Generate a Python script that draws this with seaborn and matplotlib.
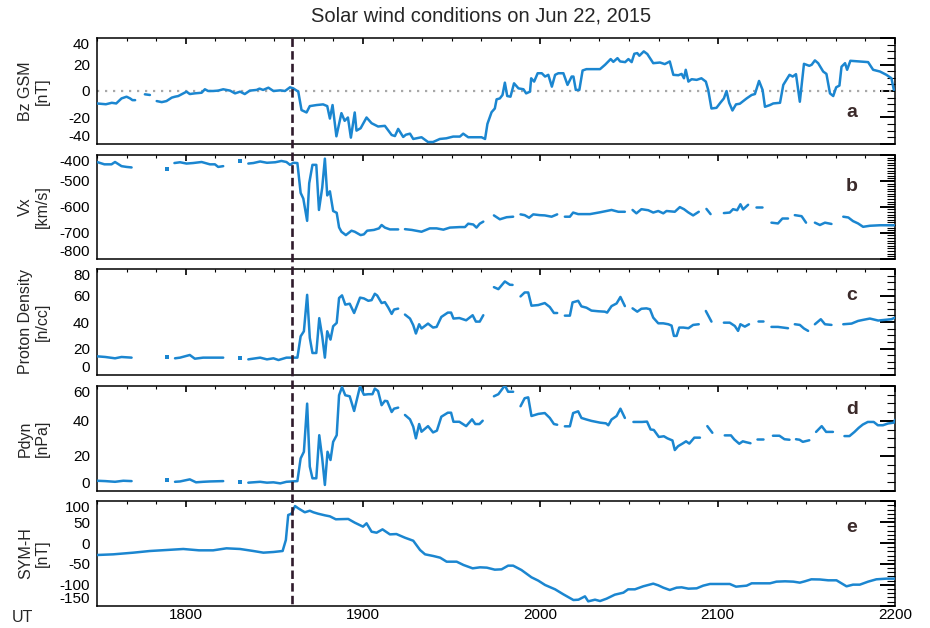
import numpy as np
import pandas as pd
import matplotlib
matplotlib.use("Agg")
import matplotlib.pyplot as plt
import matplotlib.transforms as mtransforms
from matplotlib.lines import Line2D
from matplotlib.ticker import MultipleLocator, FixedLocator
import seaborn as sns

# ---------------------------------------------------------------------------
# Data: time in minutes after 17:30 UT, value; None marks a data gap
# ---------------------------------------------------------------------------
bz_gsm = [
    (0, -9.4), (3, -10), (5, -8.9), (6.5, -9.4), (8.3, -5.6), (10, -4.3), (11.2, -5.6), (12, -6.9), (12.9, -6.9), None,
    (16.2, -2.5), (17.9, -3.0), None,
    (20.2, -7.6), (21.9, -8.4), (23.5, -7.6), (25.3, -5), (26.4, -4.3), (27.5, -3.8), (28.6, -2.5), (30.3, -0.5),
    (31.4, -2.3), (33, -1.8), (35.4, -1.3), (36.5, 1.3), (37.6, 0), (39.3, 0), (41, 0.3), (42.7, 1.3), (45, 0.3),
    (46.7, -1.8), (48.4, -0.5), (50, -2.3), (51.7, 0.3), (54, 0.8), (55, 1.8), (56.2, 0.8), (58, 2.5), (59.7, 0),
    (62, 0.5), (63.6, 0), (65.3, 2.8), (66.4, 2), (68.1, -0.5), (69.2, -14.4), (70.9, -16.2), (72, -11.4),
    (74.3, -10.6), (76.5, -10.1), (77.9, -11.4), (78.8, -20.8), (79.7, -10.6), (81, -34.2), (82.7, -16.7),
    (83.8, -22.5), (84.9, -20), (85.9, -35.2), (87.2, -16.2), (87.8, -29.9), (89.2, -28.1), (91.2, -20),
    (92.9, -24.3), (95.1, -26.8), (97.4, -26.3), (99.7, -33.2), (100.8, -34), (101.9, -28.6), (103.6, -34.7),
    (104.5, -33), (105.9, -32.2), (107, -36.2), (109.8, -34.9), (112, -38.5), (113.7, -38.5), (116, -36.2),
    (118.2, -35.7), (120.5, -34.4), (122.8, -34.4), (123.9, -32.2), (125.6, -34.9), (128.4, -34.9), (130.1, -34.9),
    (131.3, -36.2), (132.1, -24.8), (133.5, -16), (134.6, -13.2), (135.2, -6.3), (136.3, -5.6), (137.2, -3),
    (138, 6.3), (138.8, -3.8), (139.9, -4.3), (141.1, 5.8), (142.6, 2), (144.3, 1.3), (145.2, -1.8), (146.5, -0.5),
    (146.9, 9.6), (147.9, 7.1), (149.1, 13.4), (150.5, 13.4), (151.6, 10.9), (152.7, 12.2), (153.9, 3.3),
    (155, 12.2), (156.1, 13.4), (157.8, 13.4), (159.2, 4.6), (160.6, 10.9), (161.2, 10.9), (162, 0.8),
    (163.2, 0.8), (164.3, 15.5), (165.6, 16.5), (170.2, 16.5), (171.9, 19.8), (173.8, 24.1), (174.7, 22),
    (176.1, 24.8), (177, 22.3), (178.7, 21.8), (179.8, 24.1), (180.9, 21.8), (181.8, 28.1), (182.8, 28.6),
    (183.5, 26.6), (185, 29.9), (186.2, 27.9), (187.1, 24.8), (188.2, 21), (190.5, 21.5), (192.1, 20.3),
    (193.8, 22.3), (195, 12.2), (196.7, 11.9), (197.8, 12.9), (198.6, 9.6), (199.2, 16), (200.1, 7.1),
    (201.2, 8.9), (202.9, 8.4), (204.5, 9.6), (206, 7.1), (206.8, 0.8), (207.9, -13.2), (209.6, -12.7),
    (210.9, -8.9), (212.1, -5.6), (213, 0), (213.9, -8.9), (215, -14.7), (216.2, -10.1), (217.5, -9.6),
    (219.8, -5.6), (221.5, -3), (222.6, -2.3), (224, 7.6), (225.2, 0.8), (226, -11.9), (227.7, -10.6),
    (228.8, -9.4), (231.1, -8.9), (232.2, 4.6), (234.3, 12.2), (235.4, 10.9), (236.5, 12.7), (237.8, -8.1),
    (239.2, 20.5), (241, 19), (241.8, 19.8), (242.9, 23.1), (244, 21), (245.7, 14.7), (246.8, 12.9),
    (248, -1.8), (249.1, -3.8), (250.1, 2.8), (251.2, 4.1), (251.9, 18.3), (253.1, 21), (253.8, 16),
    (254.9, 22.8), (258.1, 22.3), (260.9, 21.8), (262.6, 16), (264.9, 14.7), (267.1, 12.2), (268.8, 9.6),
    (269.6, 0.8),
]

vx_speed = [
    (0, -427), (2.5, -436), (4.9, -436), (6.1, -427), (8.3, -443), (10, -446), (11.7, -448), None,
    (23.6, -455), None,
    (26.2, -431), (28.1, -428), (30.3, -433), (32.5, -431), (35.4, -427), (38.2, -436), (39.9, -436),
    (41, -446), (42.7, -443), None,
    (48.4, -423), None,
    (51.2, -433), (52.9, -431), (55.2, -425), (57.5, -430), (60.3, -428), (62.4, -423), (64.1, -427),
    (65.3, -438), (66.4, -430), (67.8, -431), (68.9, -546), (69.8, -568), (71.1, -654), (71.8, -509),
    (72.9, -438), (74.2, -438), (75.1, -612), (76.2, -526), (77.1, -414), (77.9, -556), (78.8, -540),
    (79.9, -616), (81.1, -623), (81.9, -679), (82.7, -696), (84.2, -709), (86.1, -692), (87.2, -696),
    (89.2, -709), (90.3, -706), (91.4, -692), (93.7, -689), (95.4, -683), (96.3, -670), (97.4, -680),
    (99.1, -687), (101.9, -687), None,
    (104.2, -686), (106.5, -689), (109.8, -696), (112.6, -683), (114.9, -683), (117.2, -688), (119.4, -680),
    (122.8, -678), (124.5, -678), (125.6, -665), (127.3, -668), (128.4, -680), (129.5, -665), (130.7, -657), None,
    (134.3, -633), (136.3, -648), (138.6, -640), (140.8, -638), None,
    (143.3, -629), (144.7, -632), (146.2, -642), (147.6, -629), (149.8, -632), (151.5, -633), (153.8, -638),
    (155.7, -629), None,
    (158.3, -638), (160, -638), (161.1, -622), (162.8, -628), (166.8, -628), (170.2, -621), (174.1, -612),
    (176.4, -619), (178.6, -619), None,
    (181.2, -612), (182.5, -625), (184.2, -609), (186.5, -613), (188.2, -622), (189.9, -616), (191.6, -625),
    (192.7, -616), (195.5, -619), (197.2, -601), (198.6, -609), (200, -621), (201.7, -633), (203.6, -619), None,
    (206.2, -608), (207.6, -628), None,
    (212.1, -624), (214.1, -622), (215.2, -609), (216.6, -613), (217.7, -590), (218.6, -610), (220.3, -592), None,
    (222.9, -601), (224.9, -601), None,
    (228.2, -661), (230.4, -664), (231.9, -645), (233.8, -645), None,
    (236.1, -632), (238.4, -636), (239.9, -661), None,
    (242.9, -661), (244.6, -670), (246.3, -661), (248.5, -666), None,
    (252.5, -638), (254.2, -641), (255.8, -655), (257.5, -664), (259.2, -677), (261.5, -673), (264.9, -671),
    (269.7, -671),
]

proton_density = [
    (0, 14.1), (2.8, 13.6), (6.1, 12.6), (8.3, 13.6), (11.7, 13.1), None,
    (23.6, 13.6), None,
    (26.4, 12.6), (28.1, 13.1), (31.4, 15.1), (33.1, 12.3), (35.9, 13.1), (38.2, 13.1), (42.7, 13.1), None,
    (48.4, 12.6), None,
    (51.2, 11.8), (55.2, 13.1), (57.5, 11.8), (59.7, 12.6), (61.4, 11.3), (64.1, 13.1), (67.8, 13.1),
    (68.9, 29.2), (70, 33), (71.1, 60.5), (72, 28), (72.9, 16.6), (74.2, 16.6), (75.2, 42.9), (76.2, 29.2),
    (77.1, 13.1), (77.9, 33), (79, 26.7), (79.9, 36.8), (81.1, 39.3), (81.9, 58.1), (82.9, 60.1), (84, 53.1),
    (85.5, 53.8), (87, 46.8), (89, 58.4), (90.3, 57.8), (91.8, 56), (92.9, 56.5), (94, 61.3), (94.8, 60),
    (96.3, 54.3), (97.4, 55), (98.5, 51.1), (99.7, 46.1), (100.5, 49.4), (101.9, 50.1), None,
    (104.2, 45.6), (105.9, 42.6), (107, 37.6), (107.9, 31.3), (109, 38.3), (109.8, 35.1), (112, 38.8),
    (113.7, 35.8), (114.9, 36.3), (116.5, 43.8), (118.7, 47.1), (119.8, 47.1), (120.6, 42.6), (122.6, 43),
    (124.9, 41.3), (127.1, 45.1), (128.2, 40.3), (129.5, 40.3), (130.7, 45.1), None,
    (134.3, 66.3), (135.8, 64.8), (138, 70.6), (139.7, 68.1), (140.6, 68), None,
    (143.3, 59.3), (144.7, 62.3), (145.9, 62.3), (147, 52.3), (149.3, 52.8), (151.5, 54.3), (153.2, 51.3),
    (154.6, 46.8), (155.7, 46.8), None,
    (158.3, 44.8), (160, 44.8), (160.9, 54.8), (162.8, 56), (163.9, 51.8), (165.6, 50.8), (167.3, 48.6),
    (169.6, 48.1), (171.8, 47.8), (172.6, 47.1), (174.1, 52), (175.8, 54), (177.1, 58.9), (178.6, 52), None,
    (181.2, 50.3), (182.8, 47.8), (184.2, 50), (185.9, 50.3), (187.1, 49.6), (188.2, 43.3), (189.9, 39),
    (191.6, 39), (193.3, 38.3), (194.4, 37.3), (195.2, 29.5), (196.1, 29.5), (197, 35.8), (198.4, 35.8),
    (200.1, 35.3), (201.7, 37.8), (203.6, 38.3), None,
    (206, 48.3), (207.9, 40.3), None,
    (212.1, 39.5), (214.1, 39.5), (215.8, 37), (216.9, 33.3), (217.7, 38.3), (219.2, 36.5), (220.6, 38.3), None,
    (223.6, 40.8), (225.3, 40.8), None,
    (228.2, 36.3), (230.4, 36.3), (232.1, 35.8), (233.8, 35.3), None,
    (236.1, 38.3), (237.8, 37.8), (239.2, 35.1), (240.6, 33.3), None,
    (242.9, 38.3), (244.9, 42.1), (246.3, 38.3), (248.5, 37.8), None,
    (252.5, 38.3), (255.3, 38.8), (257.5, 40.8), (259.2, 41.6), (261.5, 42.6), (264.3, 41.1), (266.5, 41.6),
    (268.8, 42.1), (270, 43.3),
]

pdyn = [
    (0, 5.7), (2.8, 5.5), (6.1, 5.1), (8.9, 5.7), (11.7, 5.5), None,
    (23.6, 6.0), None,
    (26.4, 5.1), (28.1, 5.3), (31.4, 6.5), (33.5, 4.8), (35.9, 5.1), (38.2, 5.3), (42.7, 5.5), None,
    (48.4, 4.8), None,
    (51.2, 4.6), (55.2, 5.1), (57.5, 4.6), (59.7, 4.8), (62, 4.2), (64.1, 5.1), (67.8, 5.5), (68.9, 18.5),
    (70, 22.3), (71.1, 49.9), (72, 13.8), (72.9, 7.1), (74.2, 7.1), (75.2, 31.8), (76.2, 18.5), (77.1, 3.3),
    (78, 22.3), (79, 17.6), (79.9, 28), (81.1, 31.8), (81.9, 54.7), (82.9, 59.4), (84, 54.7), (85.5, 54.1),
    (87, 45.7), (89, 59.8), (90.3, 55), (91.8, 55.3), (93.2, 55.3), (94, 58.5), (95.1, 57.1), (96.3, 49),
    (97.4, 51.5), (98.2, 51.3), (99.7, 45.1), (100.5, 47), (101.9, 47.6), None,
    (104.2, 43.4), (105.9, 40.9), (107, 36.7), (107.9, 30), (109, 38.2), (109.8, 33.8), (112, 37),
    (113.7, 33.4), (115, 34.4), (116.5, 42.4), (118.7, 44.7), (119.8, 44.7), (120.6, 39.5), (122.6, 39.5),
    (124.9, 37), (126.9, 40.9), (128, 38.2), (129.4, 38.2), (130.5, 40.1), None,
    (134.3, 54.1), (135.8, 55.3), (138, 60.3), (139.1, 56.7), (140.8, 56.7), None,
    (143.3, 48.4), (144.7, 53), (145.9, 53.5), (147, 42.8), (149.3, 44), (151.5, 44.5), (153.2, 41.7),
    (154.6, 38.2), (155.7, 37.8), None,
    (158.3, 36.9), (160, 36.9), (161.1, 44.5), (162.8, 45.5), (163.9, 41.7), (165.6, 40.8), (167.3, 40),
    (170.2, 39), (172.2, 38.6), (173, 37.5), (174.1, 40.8), (175.8, 42.8), (177.1, 47), (178.6, 41.7), None,
    (181.5, 39.4), (184.4, 39.4), (186.1, 39.6), (187.3, 35.1), (188.4, 34.8), (190.1, 30.8), (191.8, 31.2),
    (193, 30), (194.7, 28.8), (195.5, 23.3), (196.6, 25.5), (198.1, 27), (199.3, 28.3), (200.4, 27),
    (202.1, 30.4), (204, 30.4), None,
    (206.5, 37), (208.2, 33.2), None,
    (212.4, 31.7), (214.5, 31.7), (215.6, 29.4), (217.3, 26.9), (218.5, 28.3), (219.6, 27.8), (221.1, 27.2), None,
    (223.4, 29.9), (225.3, 29.9), None,
    (228.7, 31.5), (230.9, 31.5), (232.6, 29.5), (234.3, 29.2), None,
    (236.5, 29.5), (237.7, 29.2), (238.8, 28), (241, 28.9), None,
    (243.3, 33.7), (245.2, 37), (246.7, 33.7), (249, 33.7), None,
    (252.9, 31.3), (254.6, 31.3), (256.3, 33.7), (257.7, 36), (259.1, 37.9), (260.8, 39.4), (262.8, 39.4),
    (264.2, 37.5), (265.9, 37.5), (267.6, 38.5), (269.6, 39), (270, 40.6),
]

sym_h = [
    (0, -28.6), (5.5, -27), (12.3, -23), (17.9, -19), (23.6, -16.6), (29.2, -14.2), (34.5, -17.4),
    (39.3, -17.4), (43.8, -12.6), (48.4, -14.2), (52.9, -19), (56.3, -23), (59.7, -21.4), (62.8, -19),
    (63.9, 7.3), (64.7, 67.2), (65.8, 70.3), (67, 88.7), (68.1, 83.2), (70.3, 73.7), (72, 77.4), (73.2, 73.7),
    (74.8, 70.3), (77.1, 66.4), (78.8, 64), (80.8, 56.9), (82.7, 57.3), (85, 57.7), (87.2, 48.9), (90, 39.3),
    (91.2, 47.3), (92.9, 27.2), (94.6, 24.8), (96.6, 32.8), (99.1, 20.8), (101.3, 21.6), (104.2, 12.8),
    (107, 5.6), (109.3, -16.6), (111, -27), (113.8, -31), (116.1, -35), (118.3, -44.6), (121.7, -44.6),
    (124, -52.5), (127.1, -60.5), (129.6, -58.1), (131.9, -58.9), (134.6, -63.7), (136.9, -62.9),
    (139.1, -54.1), (140.8, -54.1), (143.6, -64.5), (147, -82), (149.3, -90), (151.6, -100.4), (155, -110.8),
    (157.8, -122.8), (161.2, -136.4), (162.9, -135.6), (165.1, -127.6), (166.2, -139.6), (168.5, -135.6),
    (170.2, -138.8), (172.4, -133.2), (175.2, -123.6), (178.1, -118.8), (179.7, -110.8), (182, -110.8),
    (184.8, -103.6), (188.2, -97.2), (189.9, -101.2), (191.6, -106.8), (193.8, -112.4), (196.1, -106.8),
    (197.8, -106), (200.1, -109.2), (202.9, -108.4), (205.1, -102), (207.4, -98), (210.2, -98), (214.1, -98),
    (216.2, -104.4), (219.8, -102), (221.5, -96.4), (225.5, -96.4), (227.7, -96.4), (229.9, -92.4),
    (232.8, -91.6), (235.6, -92.4), (237.8, -94.8), (239.5, -91.6), (241.7, -86.8), (244.6, -87.2),
    (247.4, -89.2), (250.2, -89.2), (253.6, -103.6), (255.8, -99.6), (258.1, -99.6), (260.9, -92.4),
    (263.7, -86.8), (267.1, -85.2), (270, -85.2),
]

# Time axis labels (minutes after 17:30 UT -> HHMM)
ut_tick_pos = [30, 90, 150, 210, 270]
ut_tick_labels = ["1800", "1900", "2000", "2100", "2200"]
shock_time = 66  # 18:36 UT, shock arrival

panel_titles = ["Bz GSM\n[nT]", "Vx\n[km/s]", "Proton Density\n[n/cc]", "Pdyn\n[nPa]", "SYM-H\n[nT]"]
panel_letters = ["a", "b", "c", "d", "e"]
panel_series = [bz_gsm, vx_speed, proton_density, pdyn, sym_h]
panel_ylim = [(-40, 40), (-800, -400), (0, 80), (0, 60), (-150, 100)]
panel_major = [20, 100, 20, 20, 50]
panel_minor = [5, 10, 5, 5, 10]

# ---------------------------------------------------------------------------
sns.set_style("white")
plt.rcParams["font.family"] = ["Liberation Sans", "DejaVu Sans"]
plt.rcParams["axes.unicode_minus"] = False

LINE_COLOR = "#1b86d0"
W, H = 930, 628
fig = plt.figure(figsize=(W / 100, H / 100), dpi=100)

# axes boxes in pixels: (top, bottom)
boxes = [(38, 144), (155, 258.7), (269, 375), (386, 490.7), (501.3, 605.7)]
left_px, right_px = 97, 895
letter_baseline = [117.3, 190.7, 300, 414.3, 531.7]


def to_frame(points):
    rows, seg = [], 0
    for p in points:
        if p is None:
            seg += 1
            continue
        rows.append((p[0], p[1], seg))
    return pd.DataFrame(rows, columns=["t", "v", "seg"])


axes = []
for i, (top, bot) in enumerate(boxes):
    ax = fig.add_axes([left_px / W, 1 - bot / H, (right_px - left_px) / W, (bot - top) / H])
    axes.append(ax)
    df = to_frame(panel_series[i])
    counts = df.groupby("seg")["t"].transform("size")
    multi = df[counts > 1]
    single = df[counts == 1]

    if i == 0:
        ax.axhline(0, color="#a8a8a8", lw=1.6, linestyle=(0, (1, 2.6)), zorder=1)

    sns.lineplot(data=multi, x="t", y="v", units="seg", estimator=None, sort=False,
                 color=LINE_COLOR, lw=1.8, ax=ax, legend=False, zorder=3)
    if len(single):
        sns.scatterplot(data=single, x="t", y="v", marker="s", s=5, color=LINE_COLOR,
                        linewidth=0, ax=ax, legend=False, zorder=3)

    ax.set_xlim(0, 270)
    ax.set_ylim(*panel_ylim[i])
    ax.set_xlabel("")
    ax.set_ylabel("")

    ax.xaxis.set_major_locator(FixedLocator(ut_tick_pos))
    ax.xaxis.set_minor_locator(MultipleLocator(10))
    ax.yaxis.set_major_locator(MultipleLocator(panel_major[i]))
    ax.yaxis.set_minor_locator(MultipleLocator(panel_minor[i]))

    ax.tick_params(axis="both", which="both", direction="in", top=True, right=True, colors="black")
    ax.tick_params(axis="y", which="major", length=11, width=1.4, labelsize=11, pad=5)
    ax.tick_params(axis="y", which="minor", length=5.8, width=0.8)
    ax.tick_params(axis="x", which="major", length=4.5, width=1.2, labelsize=11, pad=2)
    ax.tick_params(axis="x", which="minor", length=2.5, width=0.8)
    for sp in ax.spines.values():
        sp.set_visible(True)
        sp.set_color("black")
        sp.set_linewidth(1.1)

    if i < len(boxes) - 1:
        ax.tick_params(axis="x", labelbottom=False)
    else:
        ax.set_xticklabels(ut_tick_labels)

    fig.text(34 / W, 1 - ((top + bot) / 2) / H, panel_titles[i], rotation=90,
             ha="center", va="center", multialignment="center", fontsize=11.5, linespacing=1.15)
    fig.text(852 / W, 1 - letter_baseline[i] / H, panel_letters[i], ha="center", va="baseline",
             fontsize=14, fontweight="bold", color="#3b2a2a")

# Shock arrival marker spanning all panels
trans = mtransforms.blended_transform_factory(axes[-1].transData, fig.transFigure)
fig.add_artist(Line2D([shock_time, shock_time], [1 - boxes[0][0] / H, 1 - boxes[-1][1] / H],
                      transform=trans, color="#2f1a2c", lw=1.9, dashes=(3.2, 1.6), zorder=5))

fig.text(22.5 / W, 1 - 621.7 / H, "UT", ha="center", va="baseline", fontsize=11.5)
fig.text(481 / W, 1 - 22 / H, "Solar wind conditions on Jun 22, 2015", ha="center",
         va="baseline", fontsize=14.5)

# keep the end labels of each value axis inside the panel height
fig.canvas.draw()
for ax, (lo, hi) in zip(axes, panel_ylim):
    for tick in ax.yaxis.get_major_ticks():
        loc = tick.get_loc()
        if np.isclose(loc, lo):
            tick.label1.set_verticalalignment("bottom")
        elif np.isclose(loc, hi):
            tick.label1.set_verticalalignment("top")

fig.savefig("out.png", dpi=100)
